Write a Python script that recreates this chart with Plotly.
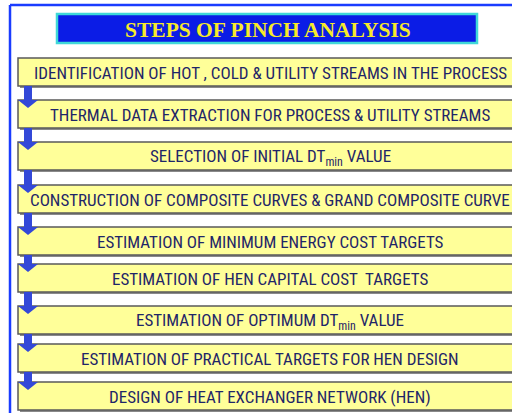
import plotly.graph_objects as go

title = "STEPS OF PINCH ANALYSIS"
steps = [
    "IDENTIFICATION OF HOT , COLD & UTILITY STREAMS IN THE PROCESS",
    "THERMAL DATA EXTRACTION FOR PROCESS & UTILITY STREAMS",
    "SELECTION OF INITIAL DT<sub>min</sub> VALUE",
    "CONSTRUCTION OF COMPOSITE CURVES & GRAND COMPOSITE CURVE",
    "ESTIMATION OF MINIMUM ENERGY COST TARGETS",
    "ESTIMATION OF HEN CAPITAL COST  TARGETS",
    "ESTIMATION OF OPTIMUM DT<sub>min</sub> VALUE",
    "ESTIMATION OF PRACTICAL TARGETS FOR HEN DESIGN",
    "DESIGN OF HEAT EXCHANGER NETWORK (HEN)",
]

# layout constants (pixel-like coordinates in a 512x413 canvas)
W, H = 512, 413
box_tops = [58, 100, 142, 185, 227, 264, 306, 344, 382]
box_h = 28
box_x0, box_x1 = 18, 522
text_cx = 270

shapes = []
annotations = []

# outer frame
shapes.append(dict(type="line", x0=10, x1=10, y0=5, y1=H + 5, line=dict(color="#1a3cff", width=2.5)))
shapes.append(dict(type="line", x0=10, x1=W + 5, y0=5, y1=5, line=dict(color="#1a3cff", width=2.5)))

# title box
shapes.append(dict(type="rect", x0=57, x1=477, y0=14, y1=43, fillcolor="#0b1ce6",
                   line=dict(color="#3fd8d8", width=2.5)))
annotations.append(dict(x=268, y=29.5, text="<b>" + title + "</b>", showarrow=False,
                        font=dict(family="Liberation Serif", size=21.5, color="#f7ea2a"),
                        xanchor="center", yanchor="middle"))

# arrow shafts between boxes
for i in range(len(steps) - 1):
    yb = box_tops[i] + box_h
    yt = box_tops[i + 1]
    shapes.append(dict(type="rect", x0=24, x1=32, y0=yb, y1=yt + 3, fillcolor="#3348d8",
                       line=dict(width=0), layer="above"))

# boxes
for i, label in enumerate(steps):
    y0 = box_tops[i]
    y1 = y0 + box_h
    shapes.append(dict(type="rect", x0=box_x0 + 2, x1=box_x1 + 2, y0=y0 + 2, y1=y1 + 2,
                       fillcolor="#8a8a8a", line=dict(width=0), layer="below"))
    shapes.append(dict(type="rect", x0=box_x0, x1=box_x1, y0=y0, y1=y1,
                       fillcolor="#ffff99", line=dict(color="#5a5a5a", width=1.5), layer="below"))
    annotations.append(dict(x=text_cx, y=(y0 + y1) / 2 + 1, text=label, showarrow=False,
                            font=dict(family="Roboto Condensed", size=17, color="#1f2668"),
                            xanchor="center", yanchor="middle"))

# arrow heads
for i in range(1, len(steps)):
    yt = box_tops[i]
    shapes.append(dict(type="path", path=f"M 18 {yt} L 38 {yt} L 28 {yt + 8} Z",
                       fillcolor="#3348d8", line=dict(width=0), layer="above"))

fig = go.Figure()
fig.update_layout(
    width=W, height=H,
    margin=dict(l=0, r=0, t=0, b=0),
    paper_bgcolor="white", plot_bgcolor="white",
    xaxis=dict(range=[0, W], visible=False, fixedrange=True),
    yaxis=dict(range=[H, 0], visible=False, fixedrange=True),
    shapes=shapes, annotations=annotations, showlegend=False,
)
fig.write_html("out.html", config={"displayModeBar": False},
               post_script="document.body.style.margin='0px';document.body.style.overflow='hidden';")
